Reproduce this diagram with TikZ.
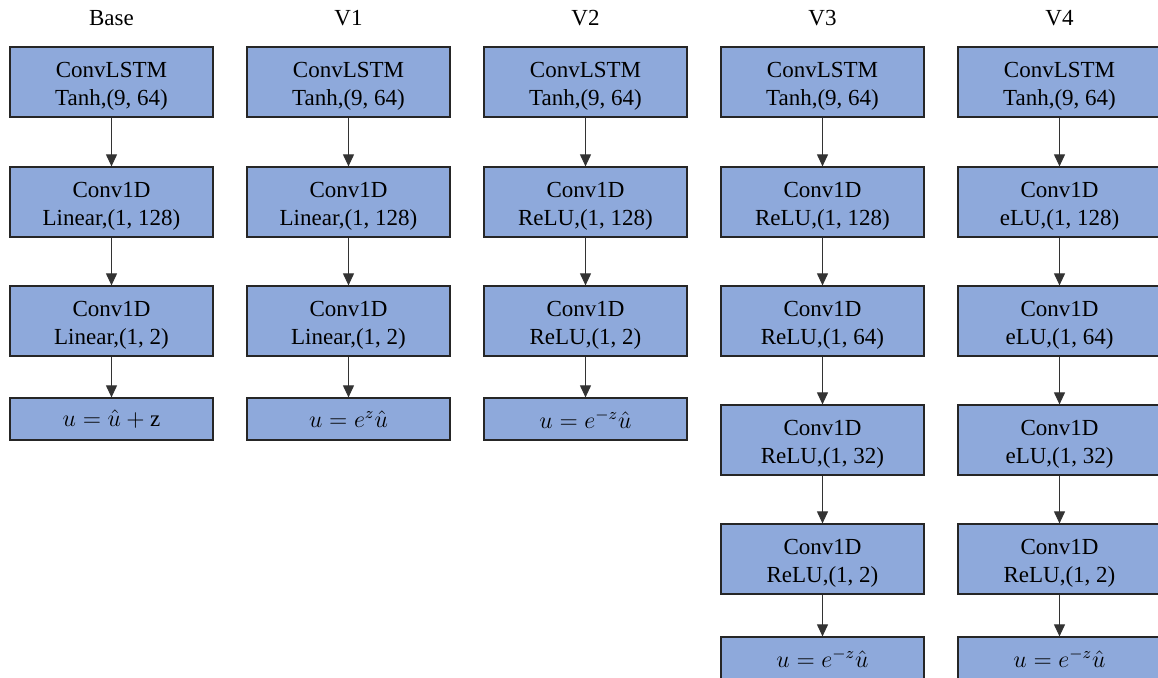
\documentclass[tikz,border=0pt]{standalone}
\usepackage{amsmath}
\usepackage{fontspec}
\setmainfont{Liberation Serif}
\usetikzlibrary{arrows.meta}

\definecolor{boxblue}{HTML}{8EA9DB}
% two-line layer label, first line pushed down a little
\newcommand{\lyr}[2]{\rule{0pt}{12.4pt}#1\\#2}

\tikzset{
	layer/.style={draw=black!85, fill=boxblue, line width=0.6pt, minimum width=101.5pt, minimum height=35pt, inner sep=0pt, align=center, font=\fontsize{11.5}{14}\selectfont},
	outbox/.style={layer, minimum height=21pt},
	flow/.style={-{Triangle[length=6pt,width=5.5pt]}, draw=black!80, line width=0.5pt},
	head/.style={font=\fontsize{11.5}{14}\selectfont}
}

\begin{document}
\begin{tikzpicture}[x=0.5pt,y=-0.5pt]
	\useasboundingbox (0,0) rectangle (1158,678);
	% titles and first ConvLSTM layer of every column
	\foreach \name/\title/\xc in {ba/Base/111.5, va/V1/348.5, vb/V2/585.5, vc/V3/822.5, vd/V4/1059.5} {
		\node[head] (\name-t) at (\xc,18) {\title};
		\node[layer] (\name-1) at (\xc,82) {\lyr{ConvLSTM}{Tanh,(9, 64)}};
	}
	
	% Base
	\node[layer] (ba-2) at (111.5,202) {\lyr{Conv1D}{Linear,(1, 128)}};
	\node[layer] (ba-3) at (111.5,321) {\lyr{Conv1D}{Linear,(1, 2)}};
	\node[outbox] (ba-o) at (111.5,419) {$u=\hat{u}+\mathrm{z}$};
	% V1
	\node[layer] (va-2) at (348.5,202) {\lyr{Conv1D}{Linear,(1, 128)}};
	\node[layer] (va-3) at (348.5,321) {\lyr{Conv1D}{Linear,(1, 2)}};
	\node[outbox] (va-o) at (348.5,419) {$u=e^{z}\hat{u}$};
	% V2
	\node[layer] (vb-2) at (585.5,202) {\lyr{Conv1D}{ReLU,(1, 128)}};
	\node[layer] (vb-3) at (585.5,321) {\lyr{Conv1D}{ReLU,(1, 2)}};
	\node[outbox] (vb-o) at (585.5,419) {$u=e^{-z}\hat{u}$};
	% V3
	\node[layer] (vc-2) at (822.5,202) {\lyr{Conv1D}{ReLU,(1, 128)}};
	\node[layer] (vc-3) at (822.5,321) {\lyr{Conv1D}{ReLU,(1, 64)}};
	\node[layer] (vc-4) at (822.5,440) {\lyr{Conv1D}{ReLU,(1, 32)}};
	\node[layer] (vc-5) at (822.5,559) {\lyr{Conv1D}{ReLU,(1, 2)}};
	\node[outbox] (vc-o) at (822.5,658) {$u=e^{-z}\hat{u}$};
	% V4
	\node[layer] (vd-2) at (1059.5,202) {\lyr{Conv1D}{eLU,(1, 128)}};
	\node[layer] (vd-3) at (1059.5,321) {\lyr{Conv1D}{eLU,(1, 64)}};
	\node[layer] (vd-4) at (1059.5,440) {\lyr{Conv1D}{eLU,(1, 32)}};
	\node[layer] (vd-5) at (1059.5,559) {\lyr{Conv1D}{ReLU,(1, 2)}};
	\node[outbox] (vd-o) at (1059.5,658) {$u=e^{-z}\hat{u}$};
	
	% connectors
	\foreach \name in {ba,va,vb} {
		\draw[flow] (\name-1) -- (\name-2);
		\draw[flow] (\name-2) -- (\name-3);
		\draw[flow] (\name-3) -- (\name-o);
	}
	\foreach \name in {vc,vd} {
		\draw[flow] (\name-1) -- (\name-2);
		\draw[flow] (\name-2) -- (\name-3);
		\draw[flow] (\name-3) -- (\name-4);
		\draw[flow] (\name-4) -- (\name-5);
		\draw[flow] (\name-5) -- (\name-o);
	}
\end{tikzpicture}
\end{document}
